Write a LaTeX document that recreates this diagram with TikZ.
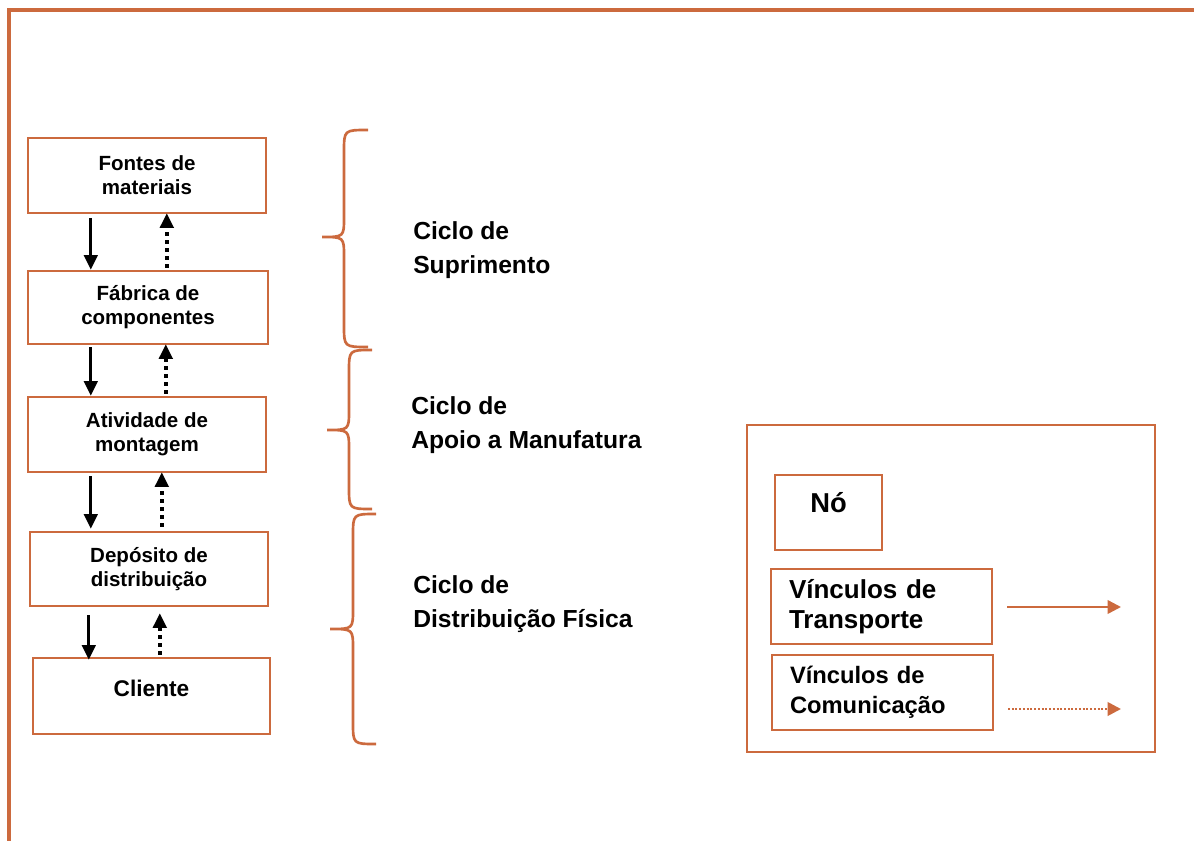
\documentclass[tikz,border=0pt]{standalone}
\usepackage{fontspec}
\setmainfont{Liberation Sans}
\usetikzlibrary{arrows.meta,calc}
\definecolor{brick}{RGB}{204,106,62}
\newcommand\mybrace[6]{%
  \draw[bracestyle] (#1,#2) .. controls (#3,#2) .. (#3,#2+22) -- (#3,#5-20)
    .. controls (#3,#5) .. (#4,#5) .. controls (#3,#5) .. (#3,#5+20)
    -- (#3,#6-22) .. controls (#3,#6) .. (#1,#6);}
\begin{document}
\begin{tikzpicture}[x=0.75pt,y=-0.75pt,
  box/.style={draw=brick, line width=1.8pt, fill=white, align=center, inner sep=0pt},
  boxtext/.style={font=\fontsize{15.4}{18}\selectfont\bfseries},
  cyc/.style={anchor=west, align=left, inner sep=0pt, font=\fontsize{18.5}{25}\selectfont\bfseries},
  solidarr/.style={line width=2.3pt, -{Triangle[length=11pt,width=10pt]}},
  dotarr/.style={line width=3pt, dash pattern=on 3pt off 3pt, -{Triangle[length=11pt,width=10pt]}},
  bracestyle/.style={draw=brick, line width=2pt},
  transp/.style={draw=brick, line width=1.8pt, -{Triangle[length=10pt,width=10pt]}, brick},
  comm/.style={draw=brick, line width=2pt, dash pattern=on 1.5pt off 1.3pt, -{Triangle[length=10pt,width=10pt]}, brick}]
\useasboundingbox (0,0) rectangle (1194,841);
\draw[brick, line width=2.3pt] (9,841) -- (9,10) -- (1194,10);

% chain boxes
\node[box, boxtext, minimum width=178.5pt, minimum height=56.25pt] (A) at (147,175.5) {Fontes de\\materiais};
\node[box, boxtext, minimum width=180pt, minimum height=54.75pt] (B) at (148,307.5) {Fábrica de\\componentes};
\node[box, boxtext, minimum width=178.5pt, minimum height=56.25pt] (C) at (147,434.5) {Atividade de\\montagem};
\node[box, boxtext, minimum width=178.5pt, minimum height=55.5pt] (D) at (149,569) {Depósito de\\distribuição};
\node[box, font=\fontsize{17}{20}\selectfont\bfseries, text height=0pt, text depth=0pt, minimum width=177.75pt, minimum height=57pt] (E) at (151.5,696) {Cliente};

% arrows
\draw[solidarr] ($(A.south west)+(64,4)$) -- ($(B.north west)+(64,0)$);
\draw[dotarr] ($(B.north west)+(140,-2)$) -- ($(A.south west)+(140,-1)$);
\draw[solidarr] ($(B.south west)+(64,2)$) -- ($(C.north west)+(64,0)$);
\draw[dotarr] ($(C.north west)+(139,-2)$) -- ($(B.south west)+(139,-1)$);
\draw[solidarr] ($(C.south west)+(64,3)$) -- ($(D.north west)+(62,-2)$);
\draw[dotarr] ($(D.north west)+(133,-4)$) -- ($(C.south west)+(135,-1)$);
\draw[solidarr] ($(D.south west)+(60,8)$) -- ($(E.north west)+(57,3)$);
\draw[dotarr] ($(E.north west)+(128,-2)$) -- ($(D.south west)+(131,6)$);

% braces
\mybrace{368}{130}{344}{322}{237}{347}
\mybrace{372}{350}{349}{327}{430}{509}
\mybrace{376}{514}{353}{330}{629}{744}

% cycle labels
\node[cyc] (c1) at (413,250) {Ciclo de\\Suprimento};
\node[cyc] (c2) at (411,425) {Ciclo de\\Apoio a Manufatura};
\node[cyc] (c3) at (413,604) {Ciclo de\\Distribuição Física};

% legend
\node[box, minimum width=306pt, minimum height=245.25pt] (L) at (951,588.5) {};
\node[box, font=\fontsize{20.5}{24}\selectfont\bfseries, text height=0pt, text depth=0pt, minimum width=80.25pt, minimum height=56.25pt] (N) at (828.5,512.5) {Nó};
\node[box, font=\fontsize{19.5}{23}\selectfont\bfseries, align=left, inner xsep=13.5pt, text width=138.75pt, minimum width=165.75pt, minimum height=56.25pt] (T) at (881.5,606.5) {Vínculos de\\Transporte};
\node[box, font=\fontsize{17.8}{22.5}\selectfont\bfseries, align=left, inner xsep=13.5pt, text width=138.75pt, minimum width=165.75pt, minimum height=56.25pt] (K) at (882.5,692.5) {Vínculos de\\Comunicação};
\coordinate (t1) at (1007,607);
\coordinate (t2) at (1121,607);
\coordinate (k1) at (1008,709);
\coordinate (k2) at (1121,709);
\draw[transp] (t1) -- (t2);
\draw[comm] (k1) -- (k2);
\end{tikzpicture}
\end{document}
